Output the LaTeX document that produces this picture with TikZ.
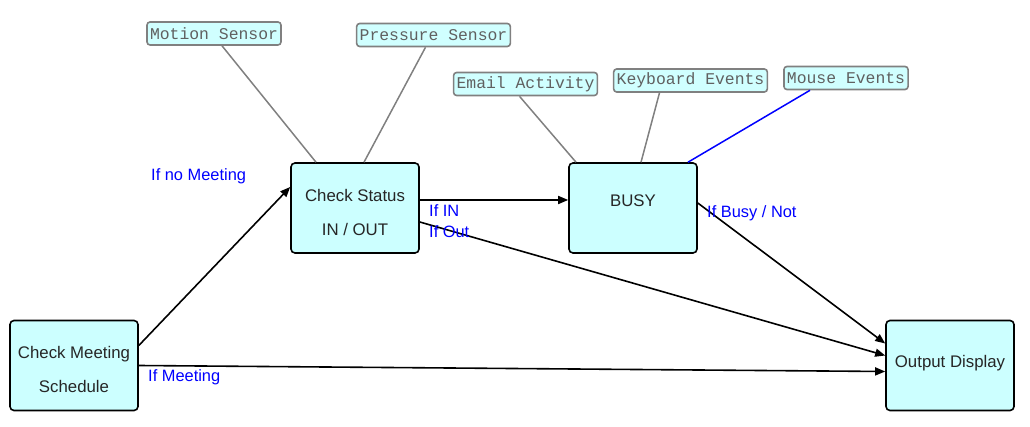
\documentclass[tikz,border=0pt]{standalone}
\usepackage{fontspec}
\setmainfont{Liberation Sans}
\newfontfamily\tagfont{Liberation Mono}
\usepackage{tikz}
\usetikzlibrary{arrows.meta}

\definecolor{boxcyan}{RGB}{204,255,255}
\definecolor{tagcyan}{RGB}{208,255,255}
\definecolor{tagline}{RGB}{128,128,128}
\definecolor{tagtext}{RGB}{96,96,96}

\begin{document}
\begin{tikzpicture}[x=1pt,y=-1pt,
            stage/.style={draw=black,line width=1.6pt,fill=boxcyan,rounded corners=4pt,
                minimum width=128pt,minimum height=90pt,align=center,inner sep=0pt,
                font=\fontsize{16.8}{34}\selectfont,text=black!85},
            sensor/.style={draw=tagline,line width=1.6pt,fill=tagcyan,rounded corners=3pt,
                minimum height=23pt,inner sep=3pt,font=\tagfont\fontsize{16.4}{17}\selectfont,
                text=tagtext},
            cond/.style={text=blue,font=\fontsize{16.4}{17}\selectfont,anchor=west,inner sep=0pt},
            link/.style={draw=tagline,line width=1.5pt},
            flow/.style={draw=black,line width=1.6pt,-{Triangle[length=10pt,width=8pt]}}]
    \useasboundingbox (0,0) rectangle (1030,427);

    % main stages
    \node[stage] (meeting) at (74,365.5) {\rule{0pt}{21pt}Check Meeting\\Schedule};
    \node[stage] (status)  at (355,208)  {\rule{0pt}{21pt}Check Status\\IN / OUT};
    \node[stage] (busy)    at (633,208)  {\rule[-14pt]{0pt}{14pt}BUSY};
    \node[stage] (output)  at (950,365.5) {\rule[-8pt]{0pt}{8pt}Output Display};

    % sensors
    \node[sensor] (motion)   at (214,33.5) {Motion Sensor};
    \node[sensor] (pressure) at (433.5,35) {Pressure Sensor};
    \node[sensor] (email)    at (525.5,84) {Email Activity};
    \node[sensor] (keyboard) at (690.5,80.5) {Keyboard Events};
    \node[sensor] (mouse)    at (846,78)   {Mouse Events};

    \draw[link] ([xshift=8]motion.south) -- ([xshift=-39]status.north);
    \draw[link] ([xshift=-8]pressure.south) -- ([xshift=9]status.north);
    \draw[link] ([xshift=-6]email.south) -- ([xshift=-57]busy.north);
    \draw[link] ([xshift=-31]keyboard.south) -- ([xshift=8]busy.north);
    \draw[link,draw=blue] ([xshift=-36]mouse.south) -- ([xshift=55]busy.north);

    % flow
    \draw[flow] ([yshift=20]meeting.east) -- ([yshift=21]status.west);
    \draw[flow] (meeting.east) -- ([yshift=-6]output.west);
    \draw[flow] ([yshift=8]status.east) -- ([yshift=8]busy.west);
    \draw[flow] ([yshift=-14]status.east) -- ([yshift=10]output.west);
    \draw[flow] ([yshift=5]busy.east) -- ([yshift=22]output.west);

    \node[cond] (nomeet) at (151,176) {If no Meeting};
    \node[cond] (meet)   at (148,377) {If Meeting};
    \node[cond] (ifin)   at (429,211) {If IN};
    \node[cond] (ifout)  at (429,232) {If Out};
    \node[cond] (ifbusy) at (707,213) {If Busy / Not};
\end{tikzpicture}
\end{document}
